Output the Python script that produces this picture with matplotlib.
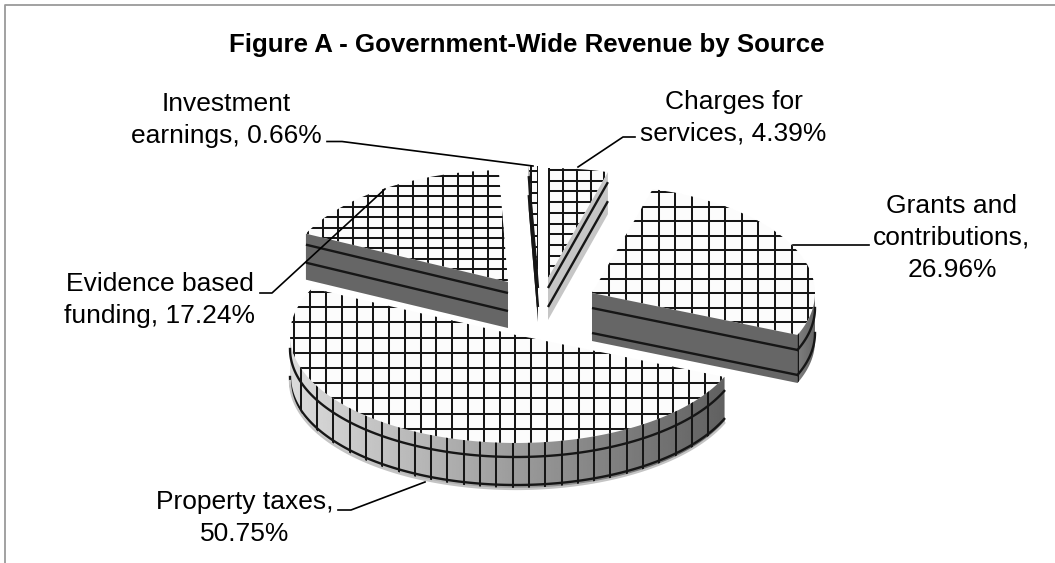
import numpy as np
import matplotlib
matplotlib.use("Agg")
from matplotlib import pyplot as plt
from matplotlib.patches import Polygon

plt.rcParams['font.family'] = ['Liberation Sans', 'DejaVu Sans']

categories = ["Charges for\nservices", "Grants and\ncontributions", "Property taxes",
              "Evidence based\nfunding", "Investment\nearnings"]
shares = [4.39, 26.96, 50.75, 17.24, 0.66]

# each slice runs clockwise from 12 o'clock
ends = np.cumsum(shares) * 3.6
starts = ends - np.array(shares) * 3.6

# exploded apex of each slice and its ellipse radii, pixels
centers = [(548, 278), (592, 293), (516, 335), (508, 282), (538, 278)]
radii = [(220, 110), (223, 108), (226, 108), (224, 112), (224, 112)]
depth = [42, 48, 46, 46, 44]
# vertical x0, step, horizontal y0, step of the grid on top
grids = [(549.3, 13.8, 170, 10.7), (609, 16.6, 192.3, 14.4), (310, 15.8, 352.7, 15.2),
         (338.3, 15, 186, 10.4), (531, 7, 171, 10.8)]
wall_cols = ["#c6c6c6", "#666666", "#666666", "#666666", "#222222"]
# two dark bands on the walls, as offsets below the top edge
bands = [(10, 29), (15, 40), (14, 42), (11, 29), (10, 29)]
INK = "#161616"
HATCH_LW = 1.45

fig = plt.figure(figsize=(10.55, 5.63), dpi=100)
ax = fig.add_axes([0, 0, 1, 1])


def arc(i, a0, a1, drop=0):
    t = np.radians(np.linspace(a0, a1, 120))
    x = centers[i][0] + radii[i][0] * np.sin(t)
    y = centers[i][1] - radii[i][1] * np.cos(t) + drop
    return np.column_stack([x, y])


def grid_lines(patch, x0, xstep, y0, ystep):
    xs = np.arange(x0 % xstep, 1055, xstep)
    ys = np.arange(y0 % ystep, 563, ystep)
    v = ax.vlines(xs, 0, 563, color=INK, lw=HATCH_LW, zorder=patch.get_zorder() + 0.1)
    h = ax.hlines(ys, 0, 1055, color=INK, lw=HATCH_LW, zorder=patch.get_zorder() + 0.1)
    v.set_clip_path(patch)
    h.set_clip_path(patch)


def top_face(i, z):
    pts = np.vstack([centers[i], arc(i, starts[i], ends[i])])
    face = Polygon(pts, closed=True, fc="#fcfcfc", ec="none", zorder=z)
    ax.add_patch(face)
    grid_lines(face, *grids[i])


def wall(i, angle, z):
    # flat cut face hanging under one straight edge of a slice
    tip = arc(i, angle, angle)[0]
    c = np.array(centers[i], dtype=float)
    d = np.array([0, depth[i]])
    ax.add_patch(Polygon([c, tip, tip + d, c + d], closed=True, fc=wall_cols[i],
                         ec="none", zorder=z))
    for b in bands[i]:
        ax.plot([c[0], tip[0]], [c[1] + b, tip[1] + b], color=INK, lw=1.7, zorder=z + 0.1,
                solid_capstyle="butt")


def rim(i, a0, a1, z, light, dark):
    top = arc(i, a0, a1)
    low = arc(i, a0, a1, depth[i])
    shape = Polygon(np.vstack([top, low[::-1]]), closed=True, fc="none", ec="none", zorder=z)
    ax.add_patch(shape)
    x0, x1 = np.r_[top[:, 0], low[:, 0]].min(), np.r_[top[:, 0], low[:, 0]].max()
    y0, y1 = np.r_[top[:, 1], low[:, 1]].min(), np.r_[top[:, 1], low[:, 1]].max()
    ramp = np.linspace(light, dark, 256).reshape(1, -1)
    im = ax.imshow(ramp, extent=[x0, x1, y1, y0], cmap="gray", vmin=0, vmax=1,
                   aspect="auto", zorder=z, interpolation="bilinear")
    im.set_clip_path(shape)
    for b in bands[i]:
        line = arc(i, a0, a1, b)
        ax.plot(line[:, 0], line[:, 1], color=INK, lw=1.7, zorder=z + 0.2)
    return shape


# back slices first, nearer ones painted over them
top_face(3, 2)
wall(3, starts[3], 3)

top_face(4, 2)
wall(4, starts[4], 3)

top_face(0, 2)
wall(0, ends[0], 3)

top_face(2, 4)
shape = rim(2, ends[1], 270, 4, 0.86, 0.38)
v = ax.vlines(np.arange(480 % 16.3, 1055, 16.3), 0, 563, color=INK, lw=HATCH_LW, zorder=4.1)
v.set_clip_path(shape)
# soft lower edge of the rim
lower = arc(2, ends[1], 270, depth[2])
ax.plot(lower[:, 0], lower[:, 1], color="#c4c4c4", lw=1.6, zorder=4.3)

top_face(1, 6)
wall(1, ends[1], 7)
shape = rim(1, 90, ends[1], 7, 0.5, 0.4)
v = ax.vlines([798], 0, 563, color=INK, lw=HATCH_LW, zorder=7.1)
v.set_clip_path(shape)

# leader lines
leaders = [
    ([327, 342, 533], [141.5, 141.5, 166]),
    ([578, 623, 635], [167, 137, 137]),
    ([793, 869], [245, 245]),
    ([385, 272, 260], [189, 293, 293]),
    ([425, 351, 338], [482, 510, 510]),
]
for xs, ys in leaders:
    ax.plot(xs, ys, color="black", lw=1.2, zorder=10)

ax.text(527, 45, "Figure A - Government-Wide Revenue by Source", ha="center", va="center",
        fontsize=18.6, fontweight="bold")

label_pos = [(733.5, 118), (952, 238), (245, 518), (160, 300), (226.5, 120)]
for name, share, (x, y) in zip(categories, shares, label_pos):
    sep = "\n" if name.startswith("Grants") or name == "Property taxes" else " "
    ax.text(x, y, f"{name},{sep}{share:.2f}%", ha="center", va="center", fontsize=19,
            linespacing=1.42, zorder=11)

# chart frame, open at the bottom and on the right
ax.plot([5, 5, 1055], [563, 5, 5], color="#9a9a9a", lw=1.3, zorder=1)

ax.set_xlim(0, 1055)
ax.set_ylim(563, 0)
ax.axis("off")
fig.savefig("out.png", dpi=100)
